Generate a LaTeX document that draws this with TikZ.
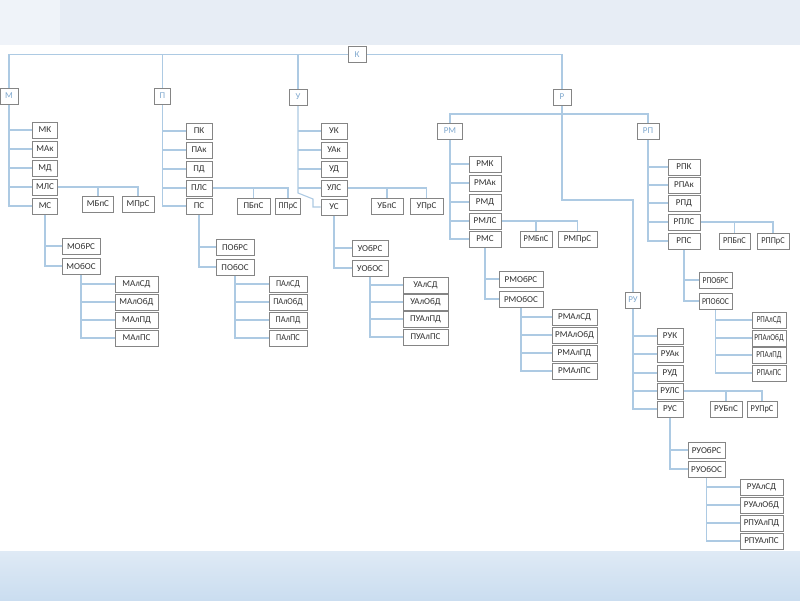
\documentclass[tikz,border=0pt]{standalone}
\usepackage{fontspec}
\setmainfont{Carlito}
\usetikzlibrary{shadows}
\definecolor{linec}{HTML}{ADCAE3}
\definecolor{boxc}{HTML}{858585}
\definecolor{txtc}{HTML}{303030}
\definecolor{headc}{HTML}{7FA8CE}
\definecolor{topband}{HTML}{E7EDF5}
\definecolor{botA}{HTML}{DFEAF5}
\definecolor{botB}{HTML}{CADDF0}
\pgfdeclarelayer{bg}
\pgfdeclarelayer{back}
\pgfsetlayers{back,bg,main}
\tikzset{
  box/.style={draw=boxc, fill=white, line width=1pt, minimum height=16pt,
    inner sep=0pt, text=txtc, font=\fontsize{9}{9}\selectfont,
    drop shadow={shadow xshift=0.7pt, shadow yshift=-0.7pt, fill=black!20, opacity=0.5}},
  head/.style={box, text=headc},
  conn/.style={draw=linec, line width=1.1pt}
}
\newcommand{\nd}[6][1]{\node[box, minimum width=#5pt] (#2) at (#3,#4) {\scalebox{#1}[1]{#6}};}
\newcommand{\hd}[5]{\node[head, minimum width=#4pt] (#1) at (#2,#3) {#5};}
\newcommand{\modlines}[1]{%
  \foreach \c in {k,ak,d,ls} {\draw[conn] (#1.south |- #1\c.west) -- (#1\c.west);}
  \draw[conn] (#1ls.east) -| (#1prs.north);
  \draw[conn] (#1ls.east -| #1bps.north) -- (#1bps.north);
  \draw[conn] (#1s.south) |- (#1obos.west);
  \draw[conn] (#1s.south |- #1obrs.west) -- (#1obrs.west);
  \draw[conn] (#1obos.south) |- (#1a4.west);
  \foreach \c in {1,2,3} {\draw[conn] (#1obos.south |- #1a\c.west) -- (#1a\c.west);}
}
\begin{document}
\begin{tikzpicture}[x=1pt, y=-1pt]
\useasboundingbox (0,0) rectangle (800,600);
\begin{pgfonlayer}{back}
  \fill[white] (0,0) rectangle (800,600);
  \fill[topband] (0,0) rectangle (800,45);
  \fill[topband!65!white] (0,0) rectangle (60,45);
  \shade[top color=botA, bottom color=botB] (0,551) rectangle (800,600);
\end{pgfonlayer}

% top level
\hd{k}{357}{54.5}{18}{К}
\hd{m}{9}{96}{18}{М}
\hd{p}{162.5}{96}{16}{П}
\hd{u}{298}{97}{18}{У}
\hd{r}{562}{97}{18}{Р}
\hd{rm}{450}{131}{25}{РМ}
\hd{rp}{648}{131}{22}{РП}
\hd{ru}{633}{300}{15}{РУ}

% М module
\nd{mk}{45}{130}{25}{МК}
\nd{mak}{45}{149}{25}{МАк}
\nd{md}{45}{168}{25}{МД}
\nd{mls}{45}{187}{25}{МЛС}
\nd{ms}{45}{206}{25}{МС}
\nd{mbps}{98}{204}{31}{МБпС}
\nd{mprs}{138}{204}{32}{МПрС}
\nd{mobrs}{81}{246}{38}{МОбРС}
\nd{mobos}{81}{266}{38}{МОбОС}
\nd{ma1}{136.5}{284}{43}{МАлСД}
\nd{ma2}{136.5}{302}{43}{МАлОбД}
\nd{ma3}{136.5}{320}{43}{МАлПД}
\nd{ma4}{136.5}{338}{43}{МАлПС}

% П module
\nd{pk}{199}{131}{26}{ПК}
\nd{pak}{199}{150}{26}{ПАк}
\nd{pd}{199}{169}{26}{ПД}
\nd{pls}{199}{188}{26}{ПЛС}
\nd{ps}{199}{206}{26}{ПС}
\nd{pbps}{253.5}{206}{33}{ПБпС}
\nd[0.9]{pprs}{288}{206}{25}{ППрС}
\nd{pobrs}{235}{247}{38}{ПОбРС}
\nd{pobos}{235}{267}{38}{ПОбОС}
\nd[0.92]{pa1}{288}{284}{38}{ПАлСД}
\nd[0.92]{pa2}{288}{302}{38}{ПАлОбД}
\nd[0.92]{pa3}{288}{320}{38}{ПАлПД}
\nd[0.92]{pa4}{288}{338}{38}{ПАлПС}

% У module
\nd{uk}{334}{131}{26}{УК}
\nd{uak}{334}{150}{26}{УАк}
\nd{ud}{334}{169}{26}{УД}
\nd{uls}{334}{188}{26}{УЛС}
\nd{us}{334}{207}{26}{УС}
\nd{ubps}{387}{206}{32}{УБпС}
\nd{uprs}{426.5}{206}{33}{УПрС}
\nd{uobrs}{370}{248}{36}{УОбРС}
\nd{uobos}{370}{268}{36}{УОбОС}
\nd{ua1}{425.5}{285}{45}{УАлСД}
\nd{ua2}{425.5}{302}{45}{УАлОбД}
\nd{ua3}{425.5}{319}{45}{ПУАлПД}
\nd{ua4}{425.5}{337}{45}{ПУАлПС}

% РМ module
\nd{rmk}{485}{164}{32}{РМК}
\nd{rmak}{485}{183}{32}{РМАк}
\nd{rmd}{485}{202}{32}{РМД}
\nd{rmls}{485}{221}{32}{РМЛС}
\nd{rms}{485}{239}{32}{РМС}
\nd[0.92]{rmbps}{536}{239}{32}{РМБпС}
\nd{rmprs}{577.5}{239}{39}{РМПрС}
\nd{rmobrs}{521}{279}{44}{РМОбРС}
\nd{rmobos}{521}{299}{44}{РМОбОС}
\nd{rma1}{574.5}{317}{45}{РМАлСД}
\nd{rma2}{574.5}{335}{45}{РМАлОбД}
\nd{rma3}{574.5}{353}{45}{РМАлПД}
\nd{rma4}{574.5}{371}{45}{РМАлПС}

% РП module
\nd{rpk}{684}{167}{32}{РПК}
\nd{rpak}{684}{185}{32}{РПАк}
\nd{rpd}{684}{203}{32}{РПД}
\nd{rpls}{684}{222}{32}{РПЛС}
\nd{rps}{684}{241}{32}{РПС}
\nd[0.92]{rpbps}{734.5}{241}{31}{РПБпС}
\nd[0.92]{rpprs}{773}{241}{32}{РППрС}
\nd[0.85]{rpobrs}{715.5}{280}{33}{РПОбРС}
\nd[0.85]{rpobos}{715.5}{301}{33}{РПОбОС}
\nd[0.8]{rpa1}{769}{320}{34}{РПАлСД}
\nd[0.8]{rpa2}{769}{338}{34}{РПАлОбД}
\nd[0.8]{rpa3}{769}{355}{34}{РПАлПД}
\nd[0.8]{rpa4}{769}{373}{34}{РПАлПС}

% РУ module
\nd{ruk}{670}{336}{26}{РУК}
\nd{ruak}{670}{354}{26}{РУАк}
\nd{rud}{670}{373}{26}{РУД}
\nd{ruls}{670}{391}{26}{РУЛС}
\nd{rus}{670}{409}{26}{РУС}
\nd{rubps}{726}{409}{32}{РУБпС}
\nd[0.92]{ruprs}{762}{409}{30}{РУПрС}
\nd{ruobrs}{706.5}{450}{37}{РУОбРС}
\nd{ruobos}{706.5}{469}{37}{РУОбОС}
\nd{rua1}{761.5}{487}{43}{РУАлСД}
\nd{rua2}{761.5}{505}{43}{РУАлОбД}
\nd{rua3}{761.5}{523}{43}{РПУАлПД}
\nd{rua4}{761.5}{541}{43}{РПУАлПС}

\coordinate (rj) at (562,114);
\coordinate (rt) at (562,200);
\coordinate (ukink1) at (298,193);
\coordinate (ukink2) at (313,199);

\begin{pgfonlayer}{bg}
  \draw[conn] (k.west) -| (m.north);
  \draw[conn] (k.west) -| (p.north);
  \draw[conn] (k.west) -| (u.north);
  \draw[conn] (k.east) -| (r.north);
  \draw[conn] (r.south) -- (rt) -| (ru.north);
  \draw[conn] (rm.north) |- (rj) -| (rp.north);
  \draw[conn] (m.south) |- (ms.west);
  \draw[conn] (p.south) |- (ps.west);
  \draw[conn] (u.south) -- (ukink1) -- (ukink2) |- (us.west);
  \draw[conn] (rm.south) |- (rms.west);
  \draw[conn] (rp.south) |- (rps.west);
  \draw[conn] (ru.south) |- (rus.west);
  \modlines{m}
  \modlines{p}
  \modlines{u}
  \modlines{rm}
  \modlines{rp}
  \modlines{ru}
\end{pgfonlayer}
\end{tikzpicture}
\end{document}
